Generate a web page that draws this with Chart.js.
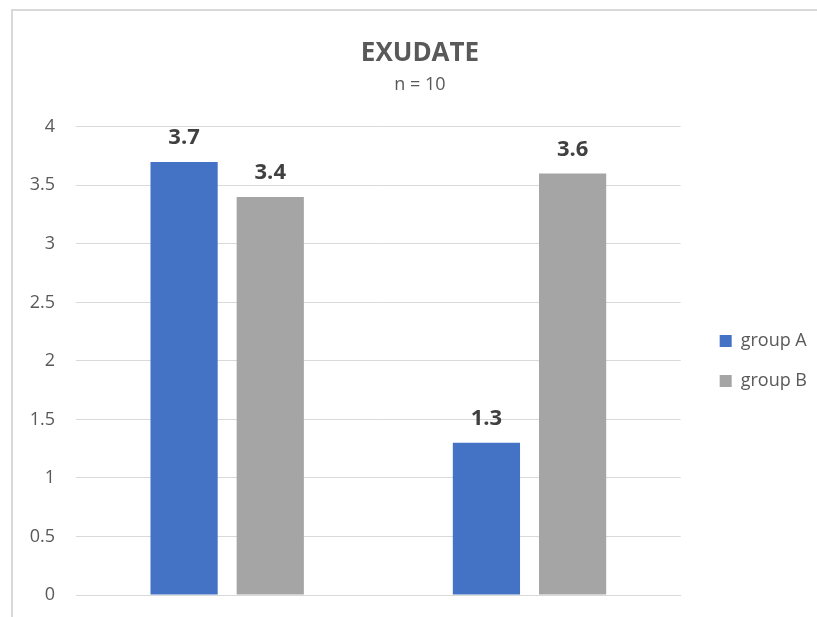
<!DOCTYPE html>
<html>
<head>
<meta charset="utf-8">
<script src="https://cdn.jsdelivr.net/npm/chart.js@4.4.0/dist/chart.umd.min.js"></script>
<style>
  html, body { margin: 0; padding: 0; background: #fff; overflow: hidden; }
  #frame { position: absolute; left: 11px; top: 9px; width: 840px; height: 640px;
           border-top: 2px solid #d9d9d9; border-left: 2px solid #d9d9d9; }
  #wrap { position: absolute; left: 0; top: 0; width: 828px; height: 617px; }
</style>
</head>
<body>
<div id="frame"></div>
<div id="wrap"><canvas id="exudateChart"></canvas></div>
<script>
// chart values
var categories = ['1', '2'];
var groupA = [3.7, 1.3];
var groupB = [3.4, 3.6];
var seriesNames = ['group A', 'group B'];
var yTicks = [0, 0.5, 1, 1.5, 2, 2.5, 3, 3.5, 4];

var FONT = "'Open Sans', sans-serif";

// draws the numbers above each bar
var barValues = {
    id: 'barValues',
    afterDatasetsDraw: function (chart) {
        var ctx = chart.ctx;
        ctx.save();
        ctx.font = 'bold 22px ' + FONT;
        ctx.fillStyle = '#404040';
        ctx.textAlign = 'center';
        ctx.textBaseline = 'alphabetic';
        chart.data.datasets.forEach(function (ds, i) {
            chart.getDatasetMeta(i).data.forEach(function (bar, j) {
                ctx.fillText(ds.data[j], bar.x, bar.y - 18);
            });
        });
        ctx.restore();
    }
};

// hidden axis used only as horizontal spacing
function spacer(width, weight) {
    return {
        type: 'linear',
        position: 'right',
        display: false,
        weight: weight,
        afterFit: function (scale) { scale.width = width; },
    };
}

var exudateChart = document.getElementById('exudateChart').getContext('2d');
var chart = new Chart(exudateChart, {
    type: 'bar',
    data: {
        labels: categories,
        datasets: [{
            label: seriesNames[0],
            data: groupA,
            backgroundColor: '#4472C4',
            categoryPercentage: 0.57,
            barPercentage: 0.78,
        }, {
            label: seriesNames[1],
            data: groupB,
            backgroundColor: '#A5A5A5',
            categoryPercentage: 0.57,
            barPercentage: 0.78,
        }],
    },
    options: {
        responsive: true,
        maintainAspectRatio: false,
        animation: false,
        layout: {
            padding: { left: 12, right: 0, top: 9, bottom: 22 },
        },
        scales: {
            x: {
                grid: { display: false, drawTicks: false },
                border: { color: '#d9d9d9' },
                ticks: { display: false },
                afterFit: function (scale) { scale.height = 0; },
            },
            y: {
                min: 0,
                max: 4,
                afterBuildTicks: function (scale) {
                    scale.ticks = yTicks.map(function (v) { return { value: v }; });
                },
                grid: { color: '#d9d9d9', tickLength: 21, tickColor: 'rgba(0,0,0,0)' },
                border: { display: false },
                ticks: {
                    padding: 0,
                    color: '#595959',
                    font: { family: FONT, size: 18 },
                    callback: function (v) { return String(v); },
                },
                afterFit: function (scale) { scale.width = 64; },
            },
            gapInner: spacer(17, 0),
            gapOuter: spacer(11, 2000),
        },
        plugins: {
            title: {
                display: true,
                text: 'EXUDATE',
                color: '#595959',
                font: { family: FONT, size: 26, weight: 'bold' },
                padding: { top: 29, bottom: 0 },
            },
            subtitle: {
                display: true,
                text: 'n = 10',
                color: '#595959',
                font: { family: FONT, size: 18 },
                padding: { top: 5, bottom: 31 },
            },
            legend: {
                position: 'right',
                fullSize: false,
                labels: {
                    boxWidth: 12,
                    boxHeight: 12,
                    padding: 22,
                    color: '#595959',
                    font: { family: FONT, size: 18 },
                },
            },
            tooltip: { enabled: false },
        },
    },
    plugins: [barValues],
});
</script>
</body>
</html>
